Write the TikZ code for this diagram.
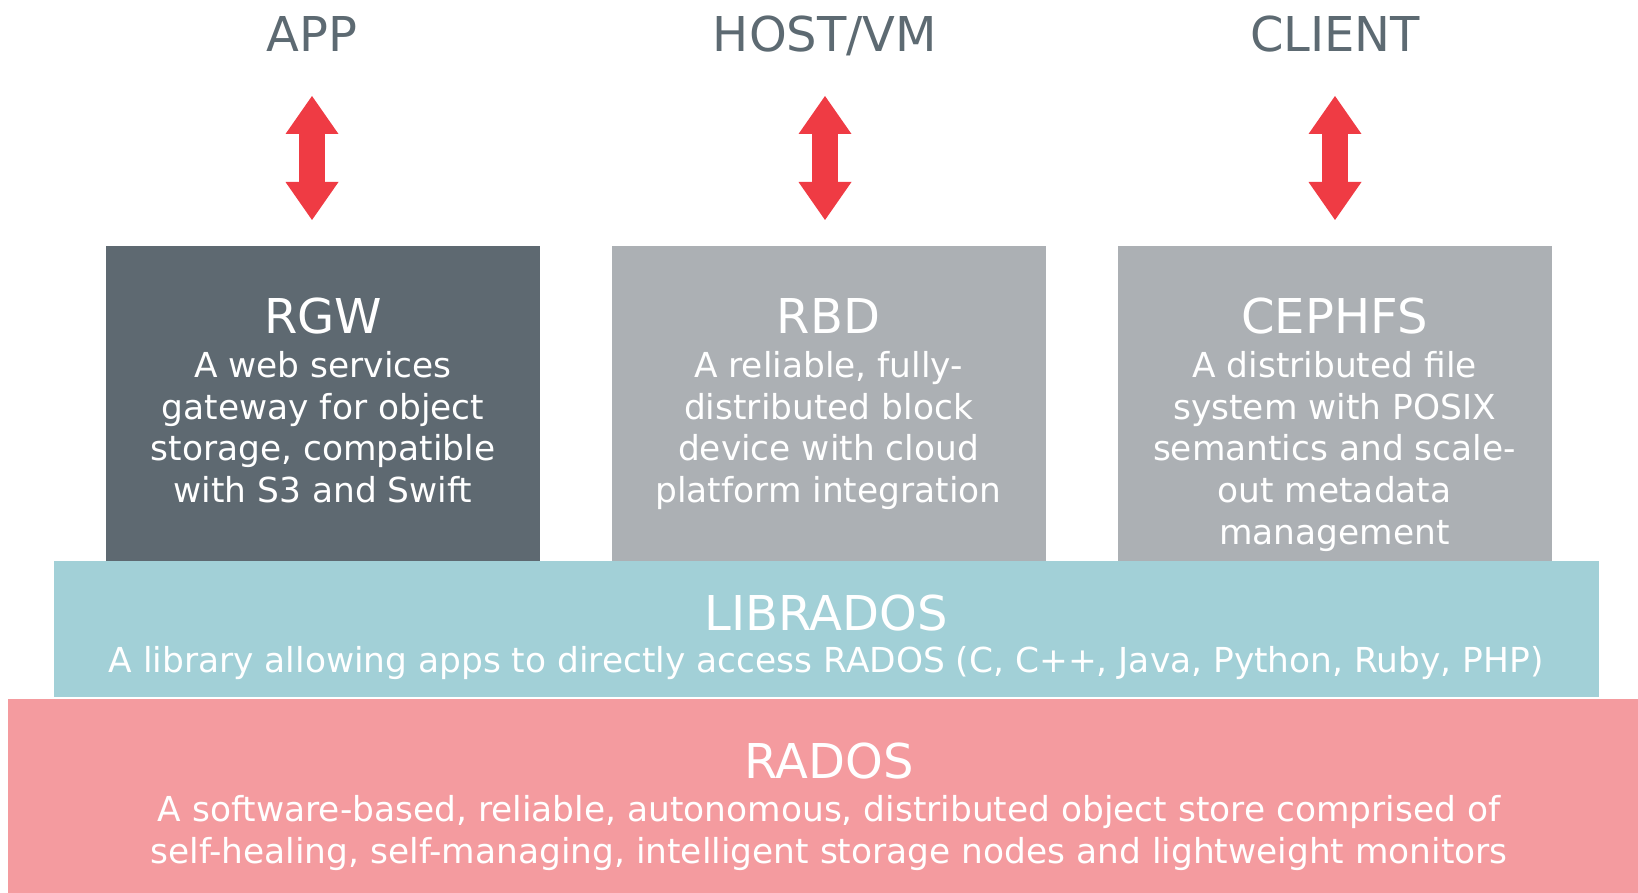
\documentclass[tikz,border=0pt]{standalone}
\usepackage{fontspec}
\setmainfont{DejaVu Sans}
\usetikzlibrary{arrows.meta,positioning}
\definecolor{labelgrey}{HTML}{5D6A72}
\definecolor{darkbox}{HTML}{5E6971}
\definecolor{lightbox}{HTML}{ACB0B4}
\definecolor{teallayer}{HTML}{A2D0D7}
\definecolor{pinklayer}{HTML}{F49B9F}
\definecolor{arrowred}{HTML}{EF3B44}

\begin{document}
\begin{tikzpicture}[x=0.5pt,y=-0.5pt,
    toplabel/.style={text=labelgrey,font=\fontsize{24}{29}\selectfont,anchor=base,inner sep=0pt},
    svcbox/.style={anchor=north west,minimum width=217pt,minimum height=157.5pt,inner sep=0pt},
    layer/.style={anchor=north west,inner sep=0pt},
    boxtitle/.style={text=white,font=\fontsize{24}{29}\selectfont,anchor=base,inner sep=0pt},
    boxtext/.style={text=white,font=\fontsize{17.2}{20.85}\selectfont,align=center,inner sep=0pt},
    layertext/.style={text=white,font=\fontsize{17.2}{21}\selectfont,align=center,inner sep=0pt},
    conn/.style={color=arrowred,line width=13pt,shorten <=22pt,shorten >=13pt,
      {Triangle[length=19pt,width=26.5pt,line width=0pt]}-{Triangle[length=19pt,width=26.5pt,line width=0pt]}}]
  \useasboundingbox (0,0) rectangle (1638,893);

  % layers
  \node[layer,fill=pinklayer,minimum width=815pt,minimum height=97pt] (rados) at (8,699) {};
  \node[layer,fill=teallayer,minimum width=772.5pt,minimum height=68pt] (librados) at (54,561) {};

  % services
  \node[svcbox,fill=darkbox] (rgw) at (106,246) {};
  \node[svcbox,fill=lightbox] (rbd) at (612,246) {};
  \node[svcbox,fill=lightbox] (cephfs) at (1118,246) {};

  % clients
  \node[toplabel] (app) at (312,52) {APP};
  \node[toplabel] (host) at (825,52) {HOST/VM};
  \node[toplabel] (client) at (1335,52) {CLIENT};

  \path[conn] (app.base) edge (app.base |- rgw.north)
    (host.base) edge (host.base |- rbd.north)
    (client.base) edge (client.base |- cephfs.north);

  % texts
  \node[boxtitle] (rgw-t) at (323,333) {RGW};
  \node[boxtext,below=9pt of rgw-t.base] (rgw-d) {A web services\\gateway for object\\storage, compatible\\with S3 and Swift};
  \node[boxtitle] (rbd-t) at (828.5,333) {RBD};
  \node[boxtext,below=9pt of rbd-t.base] (rbd-d) {A reliable, fully-\\distributed block\\device with cloud\\platform integration};
  \node[boxtitle] (cephfs-t) at (1334.5,333) {CEPHFS};
  \node[boxtext,below=9pt of cephfs-t.base] (cephfs-d) {A distributed file\\system with POSIX\\semantics and scale-\\out metadata\\management};

  \node[boxtitle] (librados-t) at (826,630) {LIBRADOS};
  \node[layertext,anchor=base] (librados-d) at (826,672) {A library allowing apps to directly access RADOS (C, C++, Java, Python, Ruby, PHP)};
  \node[boxtitle] (rados-t) at (829,778) {RADOS};
  \node[layertext,below=8.5pt of rados-t.base] (rados-d) {A software-based, reliable, autonomous, distributed object store comprised of\\self-healing, self-managing, intelligent storage nodes and lightweight monitors};
\end{tikzpicture}
\end{document}
